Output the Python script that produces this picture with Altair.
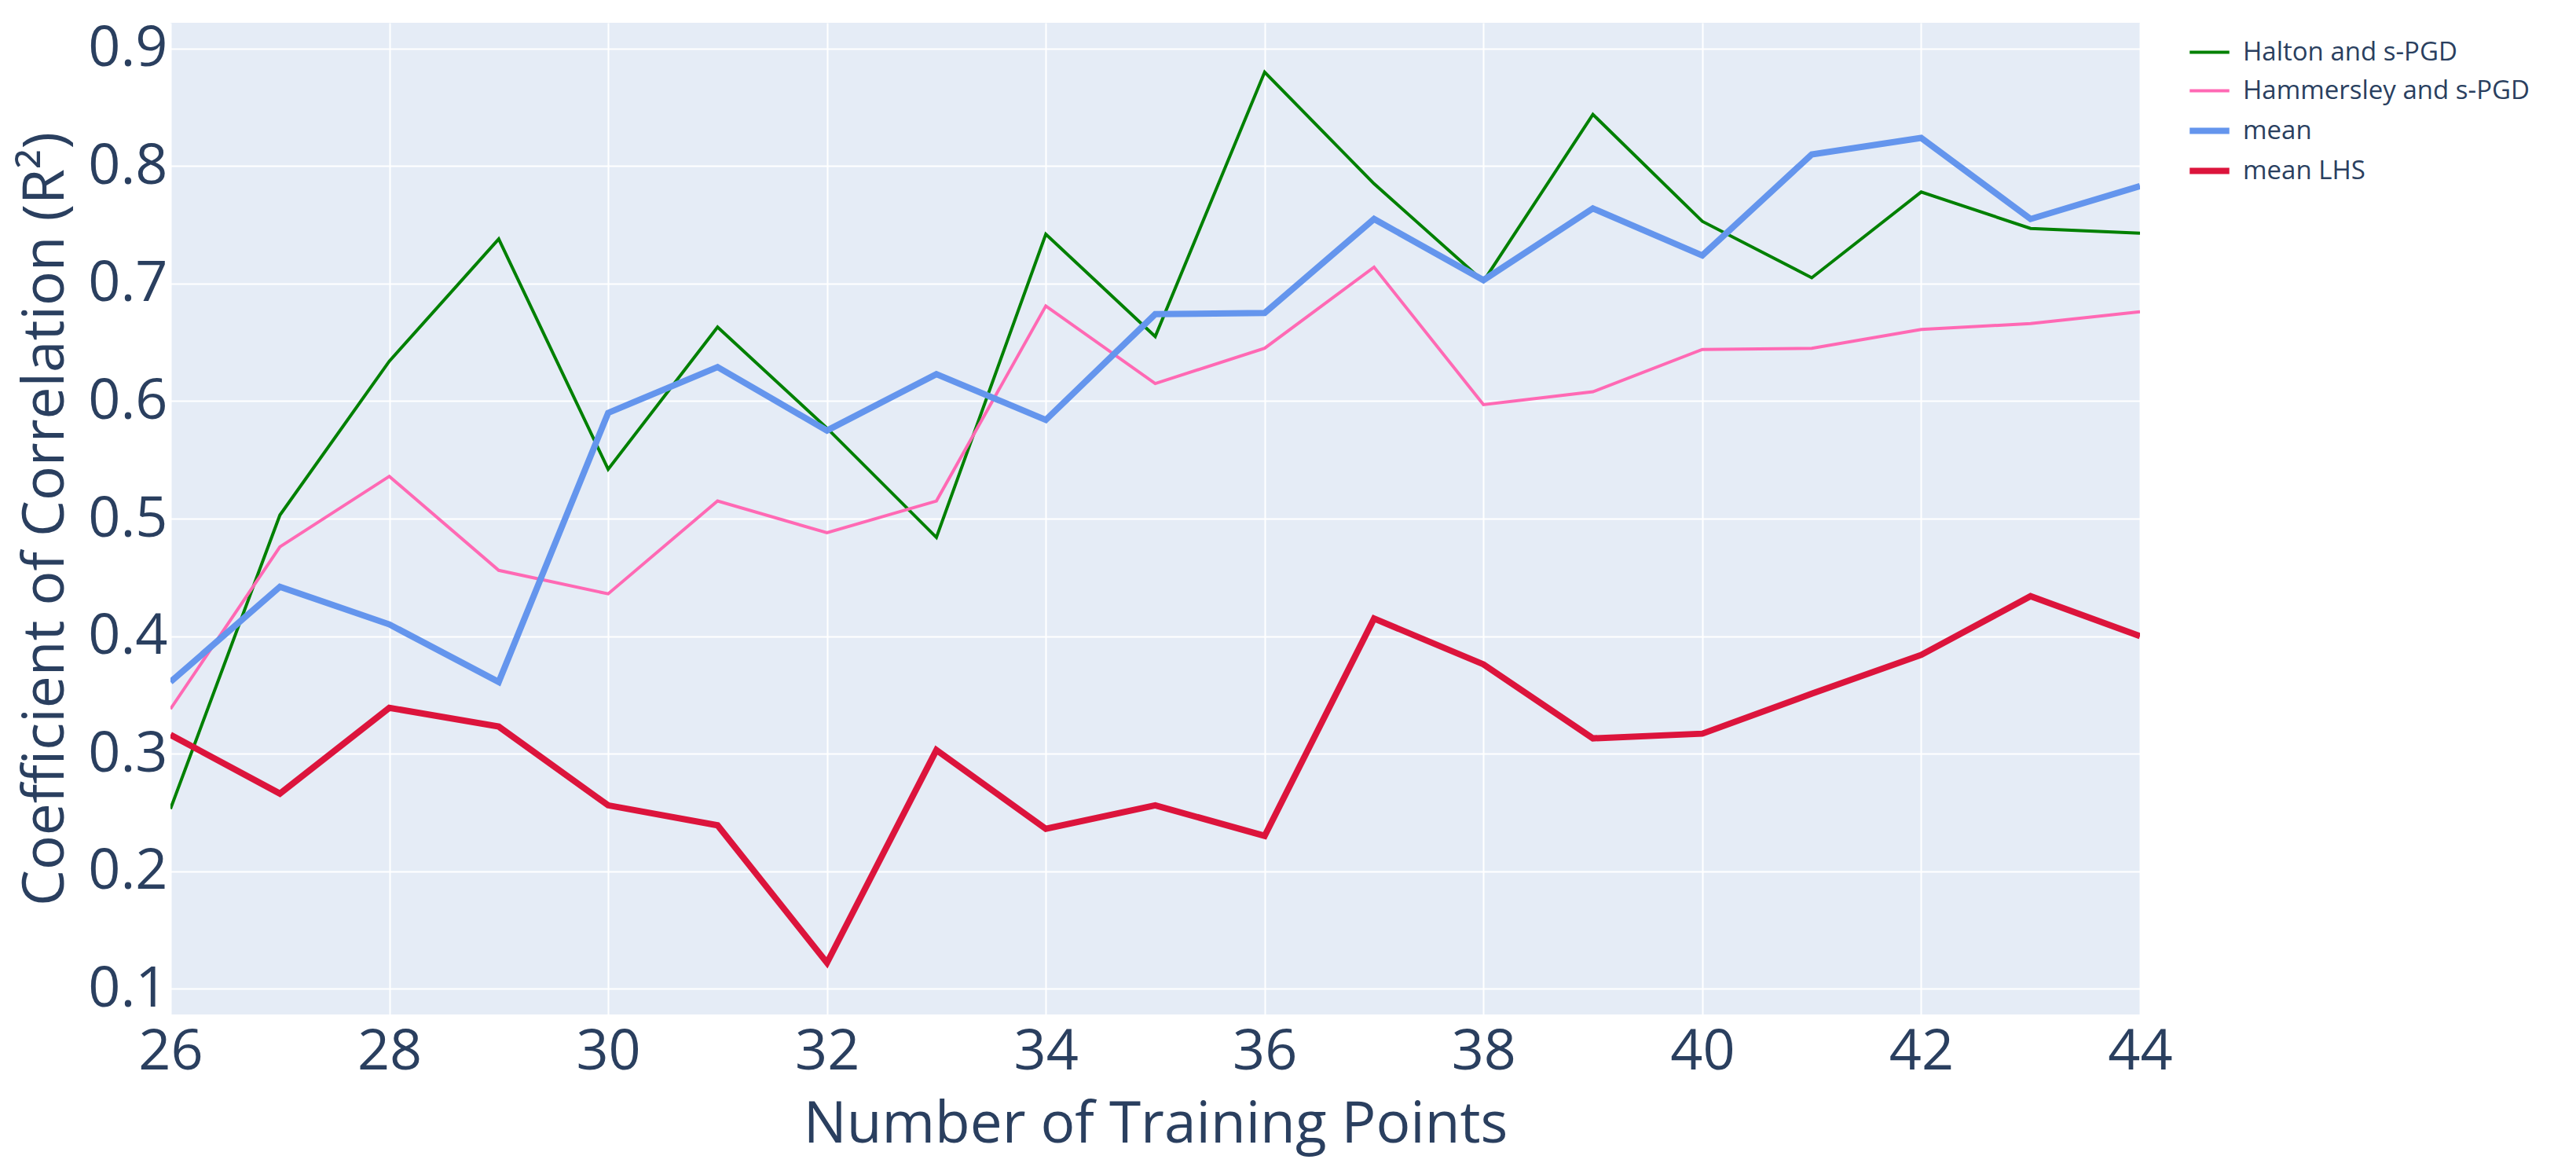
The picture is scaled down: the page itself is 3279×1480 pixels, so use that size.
import altair as alt
import pandas as pd

x_points = list(range(26, 45))

halton = [0.253, 0.503, 0.634, 0.738, 0.542, 0.663, 0.577, 0.484, 0.742, 0.655,
          0.880, 0.785, 0.702, 0.844, 0.753, 0.705, 0.778, 0.747, 0.743]
hammersley = [0.338, 0.476, 0.536, 0.456, 0.436, 0.515, 0.488, 0.515, 0.681, 0.615,
              0.645, 0.714, 0.597, 0.608, 0.644, 0.645, 0.661, 0.666, 0.676]
mean = [0.361, 0.442, 0.410, 0.361, 0.590, 0.629, 0.575, 0.623, 0.584, 0.674,
        0.675, 0.755, 0.703, 0.764, 0.724, 0.810, 0.824, 0.755, 0.783]
mean_lhs = [0.316, 0.266, 0.339, 0.323, 0.256, 0.239, 0.122, 0.303, 0.236, 0.256,
            0.230, 0.415, 0.376, 0.313, 0.317, 0.351, 0.384, 0.434, 0.400]

series_names = ["Halton and s-PGD", "Hammersley and s-PGD", "mean", "mean LHS"]
series_colors = ["green", "hotpink", "cornflowerblue", "crimson"]
series_widths = [4, 4, 8, 8]
x_ticks = [26, 28, 30, 32, 34, 36, 38, 40, 42, 44]
y_ticks = [0.1, 0.2, 0.3, 0.4, 0.5, 0.6, 0.7, 0.8, 0.9]

rows = []
for name, vals in zip(series_names, [halton, hammersley, mean, mean_lhs]):
    for xv, yv in zip(x_points, vals):
        rows.append({"n": xv, "r2": yv, "series": name})
df = pd.DataFrame(rows)

text_color = "#2a3f5f"
font = "Open Sans"

chart = alt.Chart(df).mark_line(clip=True).encode(
    x=alt.X("n:Q",
            scale=alt.Scale(domain=[26, 44], nice=False, zero=False),
            axis=alt.Axis(values=x_ticks, title="Number of Training Points",
                          titleY=162, titleBaseline="alphabetic",
                          labelPadding=12, format="d")),
    y=alt.Y("r2:Q",
            scale=alt.Scale(domain=[0.078, 0.922], nice=False, zero=False),
            axis=alt.Axis(values=y_ticks, title="Coefficient of Correlation (R²)",
                          titleX=-137, titleBaseline="alphabetic",
                          labelPadding=4, format=".1f")),
    color=alt.Color("series:N", title=None,
                    scale=alt.Scale(domain=series_names, range=series_colors)),
    strokeWidth=alt.StrokeWidth("series:N", title=None,
                                scale=alt.Scale(type="ordinal", domain=series_names,
                                                range=series_widths)),
).properties(
    width=2507,
    height=1262,
    autosize=alt.AutoSizeParams(type="none"),
    padding={"left": 209, "top": 21, "right": 520, "bottom": 185},
    background="white",
).configure_view(
    fill="#E5ECF6",
    strokeWidth=0,
).configure_axis(
    grid=True,
    gridColor="white",
    gridWidth=2,
    domain=False,
    ticks=False,
    labelFont=font,
    labelFontSize=72,
    labelColor=text_color,
    titleFont=font,
    titleFontSize=73,
    titleFontWeight="normal",
    titleColor=text_color,
    labelFlush=False,
    labelOverlap=False,
).configure_legend(
    orient="none",
    legendX=2566,
    legendY=10,
    symbolType="stroke",
    symbolSize=2550,
    labelFont=font,
    labelFontSize=33,
    labelColor=text_color,
    labelOffset=13,
    labelLimit=600,
    rowPadding=4,
    padding=0,
)

chart.save("out.html", embed_options={"renderer": "svg", "actions": False})
